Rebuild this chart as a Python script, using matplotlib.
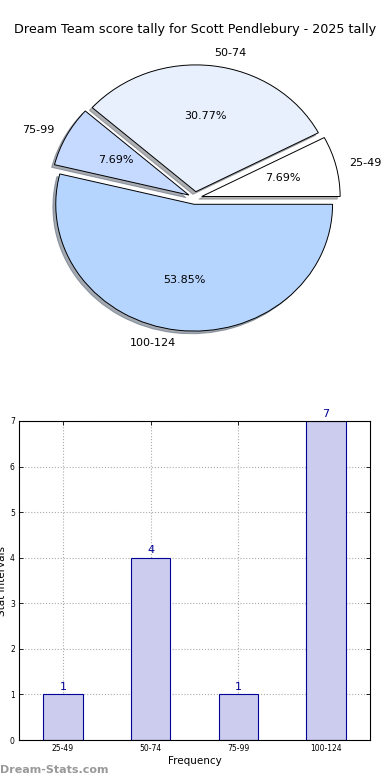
import matplotlib
matplotlib.use("Agg")
import matplotlib.pyplot as plt

categories = ["25-49", "50-74", "75-99", "100-124"]
counts = [1, 4, 1, 7]
pie_colors = ["#ffffff", "#e8f0fe", "#c6d9ff", "#b5d5ff"]
title = "Dream Team score tally for Scott Pendlebury - 2025 tally"

W, H = 390, 780
fig = plt.figure(figsize=(W / 100, H / 100), dpi=100)

# Pie
axp = fig.add_axes([22 / W, 423.5 / H, 346 / W, 317 / H])
wedges, texts, autotexts = axp.pie(
    counts, labels=categories, colors=pie_colors, explode=[0.05] * 4,
    autopct="%.2f%%", shadow={"ox": -0.015, "oy": -0.015, "shade": 0.6},
    startangle=0,
    wedgeprops=dict(edgecolor="black", linewidth=0.7),
    textprops=dict(fontsize=8), frame=False)
axp.set_xlim(-1.25, 1.25)
axp.set_ylim(-1.25, 1.25)
axp.set_aspect("auto")
axp.axis("off")
fig.text(0.5, 1 - 30 / H, title, ha="center", va="center", fontsize=9.2)

# Bar chart
axb = fig.add_axes([19 / W, 40 / H, 351 / W, 319 / H])
x = list(range(len(categories)))
bars = axb.bar(x, counts, width=0.45, color="#ccccee", edgecolor="#000099",
               linewidth=0.8, zorder=2)
for xi, c in zip(x, counts):
    axb.text(xi, c + 0.05, str(c), ha="center", va="bottom",
             color="#000099", fontsize=8)
axb.set_xlim(-0.5, len(categories) - 0.5)
axb.set_ylim(0, 7)
axb.set_xticks(x)
axb.set_xticklabels(categories)
axb.set_yticks(range(0, 8))
axb.tick_params(labelsize=5.5, direction="in", top=True, right=True,
                length=3, width=0.6, pad=3)
axb.grid(True, linestyle=":", color="#aaaaaa", linewidth=0.8, zorder=0)
axb.set_axisbelow(True)
axb.set_xlabel("Frequency", fontsize=7.5, labelpad=2)
axb.set_ylabel("Stat Intervals", fontsize=7.5, labelpad=2)
for s in axb.spines.values():
    s.set_linewidth(0.8)

fig.text(0 / W, 1 - 770 / H, "Dream-Stats.com", ha="left", va="center",
         color="#999999", fontsize=8, fontweight="bold")

fig.savefig("out.png", dpi=100)
